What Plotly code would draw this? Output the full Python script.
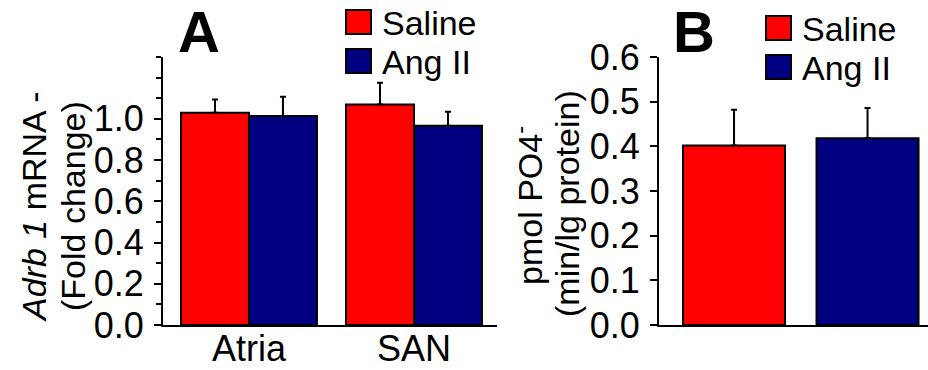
import plotly.graph_objects as go

# ---- data ----
groups_a = ["Atria", "SAN"]
saline_a = [1.029, 1.069]
saline_a_err = [0.065, 0.106]
angii_a = [1.014, 0.967]
angii_a_err = [0.093, 0.067]

saline_b = [0.402]
saline_b_err = [0.080]
angii_b = [0.418]
angii_b_err = [0.068]

series_names = ["Saline", "Ang II"]
colors = ["#FF0000", "#000080"]
yticks_a = [0, 0.2, 0.4, 0.6, 0.8, 1.0]
yticklabels_a = ["0.0", "0.2", "0.4", "0.6", "0.8", "1.0"]
yticks_b = [0, 0.1, 0.2, 0.3, 0.4, 0.5, 0.6]
yticklabels_b = ["0.0", "0.1", "0.2", "0.3", "0.4", "0.5", "0.6"]
ytitle_a = ["<i>Adrb 1</i> mRNA -", "(Fold change)"]
ytitle_b = ["pmol PO4<sup>-</sup>", "(min/lg protein)"]

W, H = 928, 370
MT, MB = 57, 45
PH = H - MT - MB
FONT = "Arial, Liberation Sans, sans-serif"


def px(x):
    return x / W


def py(y):
    return (H - MB - y) / PH


fig = go.Figure()

bw_a = 0.412
err_style = dict(type="data", symmetric=False, color="black", thickness=2, width=3)

fig.add_trace(go.Bar(
    x=[0, 1], y=saline_a, width=bw_a, offset=-bw_a,
    marker=dict(color=colors[0], line=dict(color="black", width=2)),
    error_y=dict(array=saline_a_err, arrayminus=[0, 0], **err_style),
    xaxis="x", yaxis="y", showlegend=False, name=series_names[0]))
fig.add_trace(go.Bar(
    x=[0, 1], y=angii_a, width=bw_a, offset=0,
    marker=dict(color=colors[1], line=dict(color="black", width=2)),
    error_y=dict(array=angii_a_err, arrayminus=[0, 0], **err_style),
    xaxis="x", yaxis="y", showlegend=False, name=series_names[1]))

bw_b = 0.764
fig.add_trace(go.Bar(
    x=[0], y=saline_b, width=bw_b, offset=-bw_b / 2,
    marker=dict(color=colors[0], line=dict(color="black", width=2)),
    error_y=dict(array=saline_b_err, arrayminus=[0], **err_style),
    xaxis="x2", yaxis="y2", showlegend=False, name=series_names[0]))
fig.add_trace(go.Bar(
    x=[1], y=angii_b, width=bw_b, offset=-bw_b / 2,
    marker=dict(color=colors[1], line=dict(color="black", width=2)),
    error_y=dict(array=angii_b_err, arrayminus=[0], **err_style),
    xaxis="x2", yaxis="y2", showlegend=False, name=series_names[1]))

axis_common = dict(showgrid=False, zeroline=False, showline=True, linecolor="black",
                   linewidth=2, tickfont=dict(family=FONT, size=36, color="black"))

fig.update_layout(
    width=W, height=H,
    margin=dict(l=0, r=0, t=MT, b=MB),
    paper_bgcolor="white", plot_bgcolor="white",
    barmode="overlay",
    showlegend=False,
    xaxis=dict(domain=[px(163), px(497)], range=[-0.521, 1.503],
               tickvals=[0, 1], ticktext=groups_a, ticks="", ticklabelstandoff=-9,
               anchor="y", **axis_common),
    yaxis=dict(domain=[0, 1], range=[0, 1.3], tickvals=yticks_a, ticktext=yticklabels_a,
               ticks="outside", ticklen=7, tickwidth=2, tickcolor="black", ticklabelstandoff=3,
               minor=dict(dtick=0.1, tick0=0, ticks="outside", ticklen=5, tickwidth=2, tickcolor="black"),
               anchor="x", **axis_common),
    xaxis2=dict(domain=[px(659), px(928)], range=[-0.562, 1.453],
                showticklabels=False, ticks="", anchor="y2", **axis_common),
    yaxis2=dict(domain=[0, 1], range=[0, 0.6], tickvals=yticks_b, ticktext=yticklabels_b,
                ticks="outside", ticklen=7, tickwidth=2, tickcolor="black", ticklabelstandoff=3,
                anchor="x2", **axis_common),
)

annotations = []
shapes = []

# panel letters
for letter, lx in [("A", 199), ("B", 694)]:
    annotations.append(dict(text="<b>%s</b>" % letter, x=px(lx), y=py(31), xref="paper", yref="paper",
                            xanchor="center", yanchor="middle", showarrow=False,
                            font=dict(family=FONT, size=58, color="black")))

# y titles (one annotation per line)
for lines, xs, ys in [(ytitle_a, [34, 73], [207, 206]), (ytitle_b, [527, 567], [206, 204])]:
    for t, xx, yy in zip(lines, xs, ys):
        annotations.append(dict(text=t, textangle=-90,
                                x=px(xx), y=py(yy), xref="paper", yref="paper",
                                xanchor="center", yanchor="middle", showarrow=False,
                                font=dict(family=FONT, size=34, color="black")))

# legends
legend_pos = [(346, [10, 49], 380), (766, [16, 55], 800)]
for lx, rows, tx in legend_pos:
    for i, ry in enumerate(rows):
        shapes.append(dict(type="rect", xref="paper", yref="paper",
                           x0=px(lx), x1=px(lx + 25), y0=py(ry), y1=py(ry + 24),
                           fillcolor=colors[i], line=dict(color="black", width=2)))
        annotations.append(dict(text=series_names[i], x=px(tx), y=py(ry + 13),
                                xref="paper", yref="paper", xanchor="left", yanchor="middle",
                                showarrow=False, font=dict(family=FONT, size=34, color="black")))

fig.update_layout(annotations=annotations, shapes=shapes)
fig.write_html("out.html",
               config={"displayModeBar": False},
               post_script="document.body.style.margin='0px';document.body.style.overflow='hidden';")
